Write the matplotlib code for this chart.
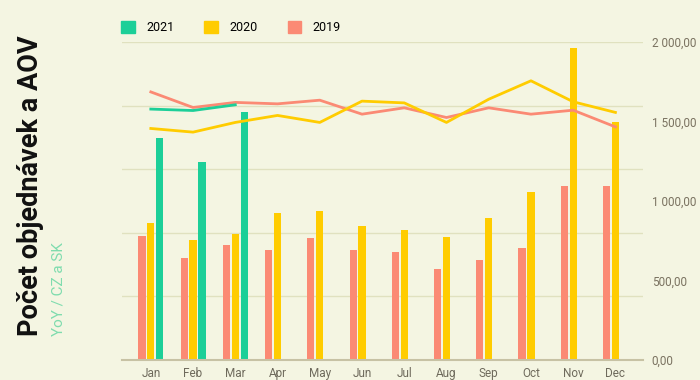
import matplotlib.pyplot as plt
import numpy as np
from matplotlib.patches import Patch

months = ['Jan', 'Feb', 'Mar', 'Apr', 'May', 'Jun', 'Jul', 'Aug', 'Sep', 'Oct', 'Nov', 'Dec']

# orders (bars, hidden left axis)
orders_2019 = [975, 804, 906, 862, 957, 862, 847, 718, 784, 878, 1370, 1366]
orders_2020 = [1075, 943, 988, 1158, 1171, 1054, 1022, 969, 1116, 1318, 2451, 1869]
orders_2021 = [1743, 1557, 1950]

# AOV (lines, right axis)
aov_2019 = [1687, 1589, 1621, 1612, 1635, 1547, 1587, 1526, 1587, 1547, 1572, 1467]
aov_2020 = [1457, 1434, 1495, 1539, 1495, 1629, 1618, 1495, 1641, 1757, 1625, 1558]
aov_2021 = [1579, 1570, 1606]

c21 = '#1ccf98'
c20 = '#ffcc00'
c19 = '#fb8a74'
bg = '#f4f5e2'

plt.rcParams['font.family'] = ['Roboto', 'DejaVu Sans']

fig = plt.figure(figsize=(7, 3.8), dpi=100, facecolor=bg)
ax = fig.add_axes([0.174, 0.0526, 0.745, 0.8364])
ax.set_facecolor(bg)

x = np.arange(len(months))
w = 0.17
off = 0.21
ax.bar(x - off, orders_2019, w, color=c19, zorder=2)
ax.bar(x, orders_2020, w, color=c20, zorder=2)
ax.bar(x[:len(orders_2021)] + off, orders_2021, w, color=c21, zorder=2)

ax.set_ylim(0, 2500)
# hidden left axis: only light grid lines
for g in range(500, 2501, 500):
    ax.axhline(g, color='#e0e1bf', lw=1, zorder=0)
ax.set_yticks([])
ax.set_xlim(-0.687, 11.66)
ax.set_xticks(x)
ax.set_xticklabels(months, fontsize=8.5, color='#6e6a5c')
ax.tick_params(axis='x', length=0, pad=5)
for s in ['top', 'left', 'right']:
    ax.spines[s].set_visible(False)
ax.spines['bottom'].set_color('#c7c2a4')
ax.spines['bottom'].set_linewidth(1.5)

ax2 = ax.twinx()
ax2.plot(x, aov_2019, color=c19, lw=2)
ax2.plot(x, aov_2020, color=c20, lw=2)
ax2.plot(x[:len(aov_2021)], aov_2021, color=c21, lw=2)
ax2.set_ylim(0, 2000)
ax2.set_yticks(np.arange(0, 2001, 500))
ax2.set_yticklabels(['0,00', '500,00', '1 000,00', '1 500,00', '2 000,00'],
                    fontsize=8.5, color='#7a7260')
ax2.tick_params(axis='y', which='both', left=False, length=0, pad=6)
for s in ax2.spines.values():
    s.set_visible(False)

handles = [Patch(color=c21, label='2021'), Patch(color=c20, label='2020'),
           Patch(color=c19, label='2019')]
fig.legend(handles=handles, loc='center left', bbox_to_anchor=(0.157, 0.928),
           ncol=3, frameon=False, fontsize=9, handlelength=1.1, handleheight=1.1,
           columnspacing=2.4, handletextpad=0.9)

fig.text(0.043, 0.115, 'Počet objednávek a AOV', rotation=90, fontsize=19.5,
         fontweight='bold', color='#111111', ha='center', va='bottom')
fig.text(0.083, 0.115, 'YoY / CZ a SK', rotation=90, fontsize=11,
         color='#7fdcae', ha='center', va='bottom')

fig.savefig('out.png', dpi=100, facecolor=bg)
